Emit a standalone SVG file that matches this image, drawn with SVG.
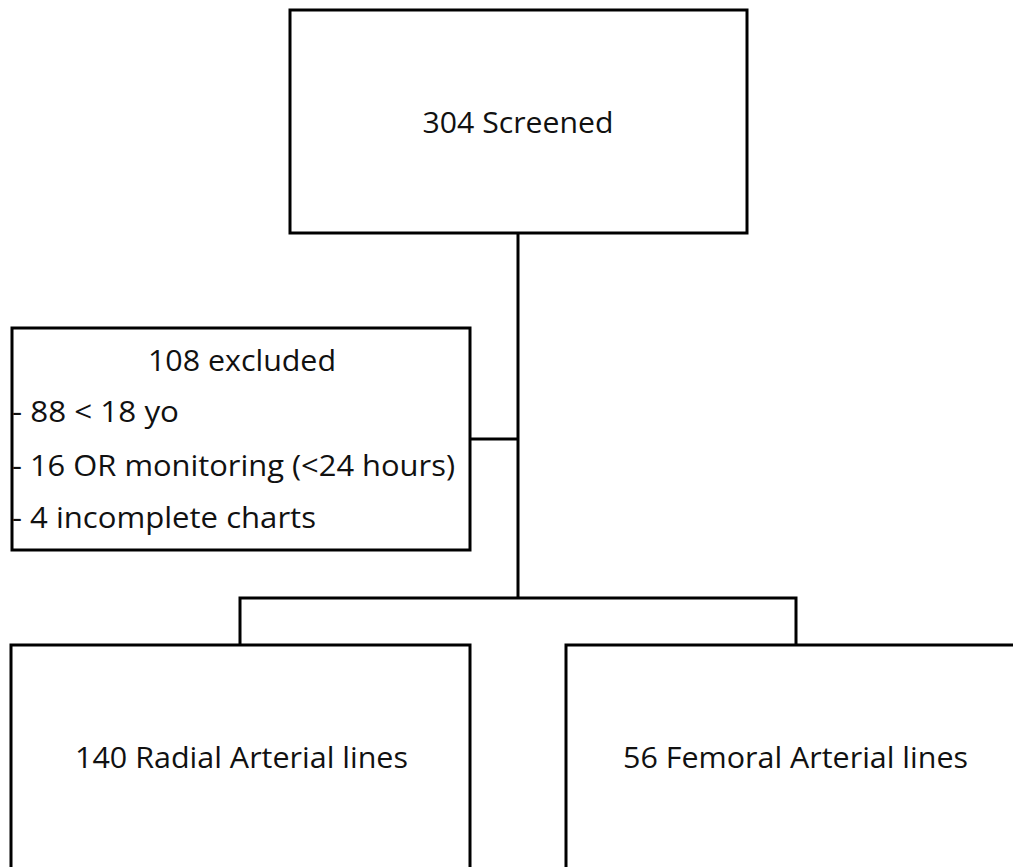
<svg xmlns="http://www.w3.org/2000/svg" width="1013" height="867" viewBox="0 0 1013 867">
<style>
.box{fill:#fff;stroke:#000;stroke-width:3}
.ln{fill:none;stroke:#000;stroke-width:3}
.t{font-family:"Open Sans","Liberation Sans",sans-serif;font-size:30px;fill:#111}
</style>
<rect width="1013" height="867" fill="#fff"/>
<g id="connectors">
<polyline class="ln" points="518,233 518,598"/>
<polyline class="ln" points="470,439 518,439"/>
<polyline class="ln" points="240,645 240,598 796,598 796,645"/>
</g>
<g id="screened">
<rect class="box" x="290" y="10" width="457" height="223"/>
<text class="t" x="518" y="133" text-anchor="middle" textLength="191" lengthAdjust="spacingAndGlyphs">304 Screened</text>
</g>
<g id="excluded">
<rect class="box" x="12" y="328" width="458" height="222"/>
<text class="t" x="242" y="371" text-anchor="middle" textLength="188" lengthAdjust="spacingAndGlyphs">108 excluded</text>
<text class="t" x="12" y="422" textLength="167" lengthAdjust="spacingAndGlyphs">- 88 &lt; 18 yo</text>
<text class="t" x="12" y="476" textLength="443" lengthAdjust="spacingAndGlyphs">- 16 OR monitoring (&lt;24 hours)</text>
<text class="t" x="12" y="528" textLength="304" lengthAdjust="spacingAndGlyphs">- 4 incomplete charts</text>
</g>
<g id="radial">
<rect class="box" x="11" y="645" width="459" height="230"/>
<text class="t" x="75" y="768" textLength="333" lengthAdjust="spacingAndGlyphs">140 Radial Arterial lines</text>
</g>
<g id="femoral">
<rect class="box" x="566" y="645" width="460" height="230"/>
<text class="t" x="623" y="768" textLength="345" lengthAdjust="spacingAndGlyphs">56 Femoral Arterial lines</text>
</g>
</svg>
